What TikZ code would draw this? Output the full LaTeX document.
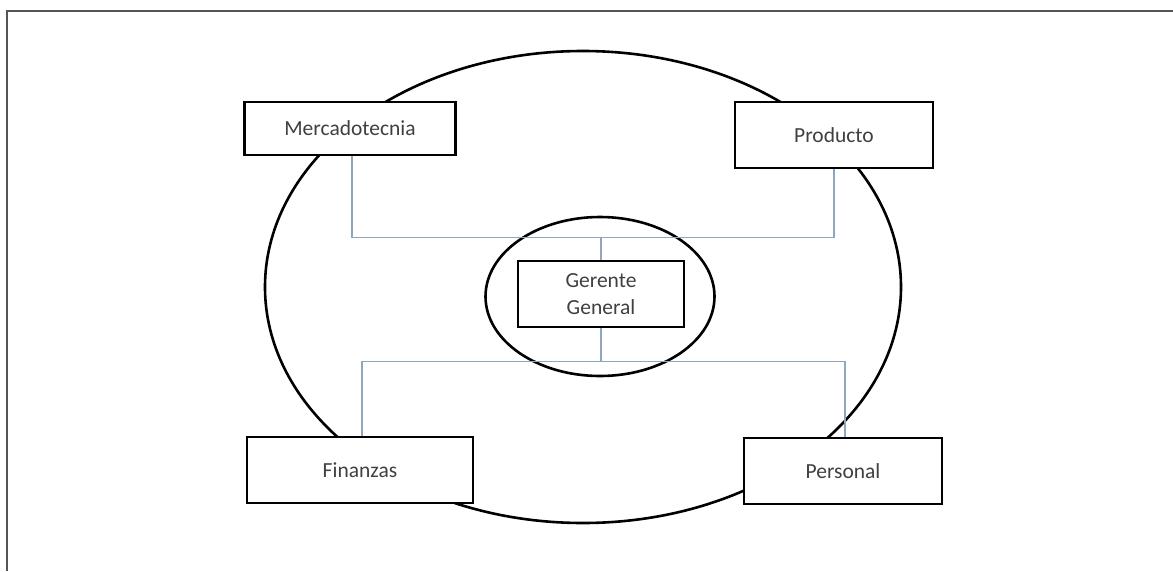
\documentclass[tikz,border=0pt]{standalone}
\usepackage{fontspec}
\setmainfont{Carlito}
\usetikzlibrary{shapes.geometric}
\definecolor{frame}{HTML}{555555}
\definecolor{conncol}{HTML}{8FA6BC}
\definecolor{txt}{HTML}{404040}
\tikzset{
  box/.style={draw=black, line width=2.8pt, fill=white, rectangle, inner sep=0pt,
    text=txt, font=\fontsize{21.5}{27}\selectfont, align=center},
  ring/.style={draw=black, line width=2.6pt, ellipse, inner sep=0pt},
  conn/.style={draw=conncol, line width=1.4pt},
  framestyle/.style={draw=frame, line width=2pt}
}
\begin{document}
\begin{tikzpicture}[x=1pt, y=-1pt]
\useasboundingbox (0,0) rectangle (1173,571);
\fill[white] (0,0) rectangle (1173,571);
% outer frame
\coordinate (fbl) at (7,571);
\coordinate (ftl) at (7,11);
\coordinate (ftr) at (1173,11);
\draw[framestyle] (fbl) -- (ftl) -- (ftr);
% big ellipse
\node[ring, minimum width=636, minimum height=472] (outer) at (583,287) {};
% small ellipse
\node[ring, minimum width=229, minimum height=159] (inner) at (600,296.5) {};
% boxes
\node[box, minimum width=211, minimum height=53] (m) at (350,128.5) {Mercadotecnia};
\node[box, minimum width=198, minimum height=66] (p) at (834,135) {Producto};
\node[box, minimum width=166, minimum height=66] (g) at (601,294) {Gerente\\General};
\node[box, minimum width=226, minimum height=66] (f) at (360,470) {Finanzas};
\node[box, minimum width=198, minimum height=66] (pe) at (843,471) {Personal};
% junctions
\coordinate (jt) at ([yshift=22pt]g.north);
\coordinate (jb) at ([yshift=-33pt]g.south);
% connectors
\draw[conn] ([xshift=2pt]m.south) |- (jt) -| (p.south);
\draw[conn] (jt) -- (g.north);
\draw[conn] (g.south) -- (jb);
\draw[conn] ([xshift=2pt]f.north) |- (jb) -| ([xshift=2pt]pe.north);
\end{tikzpicture}
\end{document}
